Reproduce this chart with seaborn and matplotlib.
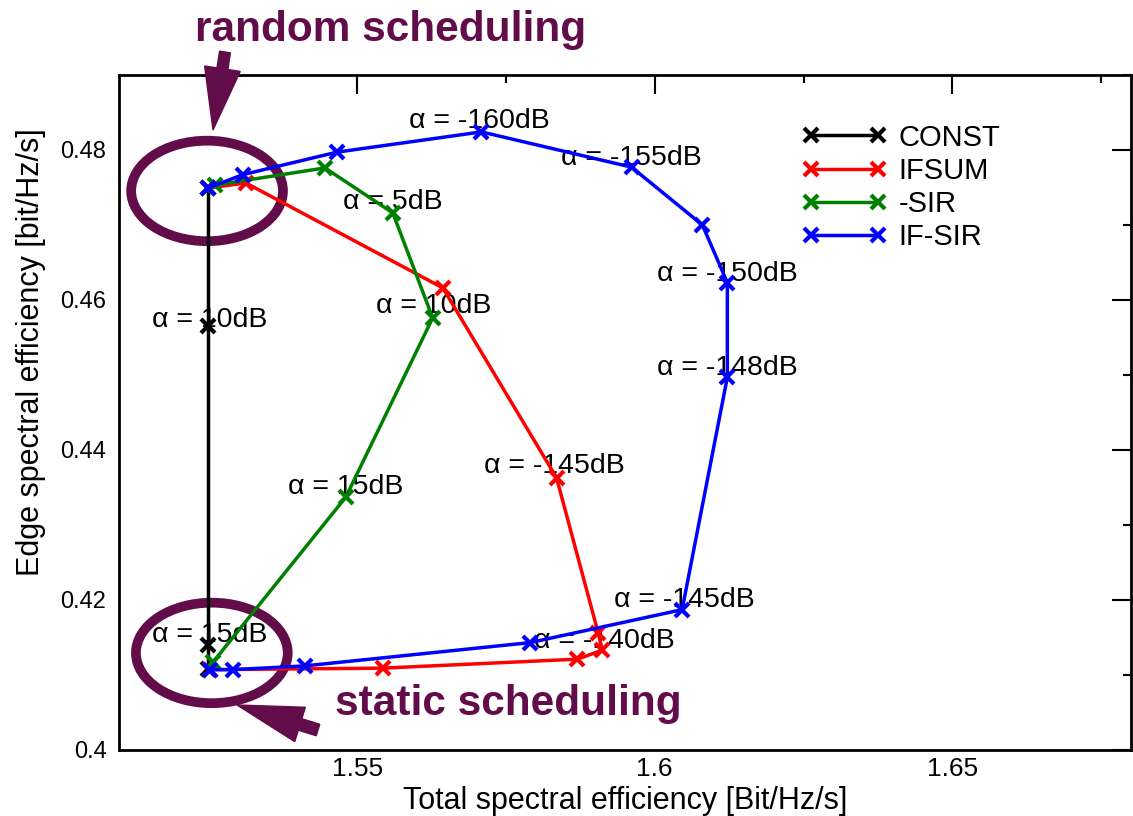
import matplotlib
matplotlib.use('Agg')
import matplotlib.pyplot as plt
from matplotlib.patches import Ellipse, FancyArrow
from matplotlib.ticker import MultipleLocator
import seaborn as sns

# data
const_x = [1.5250, 1.5250, 1.5250, 1.5250]
const_y = [0.4749, 0.4565, 0.4140, 0.4108]

ifsum_x = [1.5249, 1.5313, 1.5644, 1.5835, 1.5905, 1.5912, 1.5870, 1.5543, 1.5253]
ifsum_y = [0.4749, 0.4756, 0.4616, 0.4363, 0.4156, 0.4133, 0.4121, 0.4109, 0.4107]

sir_x = [1.5249, 1.5261, 1.5446, 1.5560, 1.5627, 1.5481, 1.5258]
sir_y = [0.4749, 0.4753, 0.4776, 0.4716, 0.4576, 0.4337, 0.4117]

ifsir_x = [1.5249, 1.5308, 1.5466, 1.5709, 1.5961, 1.6080, 1.6122, 1.6122,
           1.6046, 1.5790, 1.5412, 1.5291, 1.5253]
ifsir_y = [0.4749, 0.4767, 0.4797, 0.4824, 0.4777, 0.4700, 0.4623, 0.4497,
           0.4187, 0.4143, 0.4112, 0.4107, 0.4107]

series_names = ['CONST', 'IFSUM', '-SIR', 'IF-SIR']
series_colors = ['black', 'red', 'green', 'blue']

alpha_labels = ['α = -160dB', 'α = -155dB', 'α = 5dB', 'α = 10dB', 'α = 15dB',
                'α = -145dB', 'α = -140dB', 'α = -150dB', 'α = -148dB',
                'α = -145dB', 'α = 10dB', 'α = 15dB']
alpha_pos = [(1.5588, 0.4839), (1.5843, 0.4789), (1.5476, 0.4731), (1.5531, 0.4592),
             (1.5384, 0.4351), (1.5714, 0.4379), (1.5798, 0.4145), (1.6003, 0.4635),
             (1.6003, 0.4509), (1.5931, 0.4200), (1.5155, 0.4573), (1.5155, 0.4153)]

PURPLE = '#620c4a'


def main():
    sns.set_style('white')
    plt.rcParams['font.family'] = ['Liberation Sans', 'DejaVu Sans']
    plt.rcParams['text.color'] = 'black'
    plt.rcParams['axes.labelcolor'] = 'black'
    plt.rcParams['xtick.color'] = 'black'
    plt.rcParams['ytick.color'] = 'black'

    fig = plt.figure(figsize=(11.33, 8.16), dpi=100)
    ax = fig.add_axes([0.105, 0.081, 0.8932, 0.8272])

    xs = [const_x, ifsum_x, sir_x, ifsir_x]
    ys = [const_y, ifsum_y, sir_y, ifsir_y]
    for x, y, name, c in zip(xs, ys, series_names, series_colors):
        sns.lineplot(x=x, y=y, sort=False, estimator=None, ax=ax, color=c,
                     linewidth=2.5, marker='x', markersize=10,
                     markeredgewidth=3, markeredgecolor=c, label=name, zorder=3)

    for txt, (tx, ty) in zip(alpha_labels, alpha_pos):
        ax.text(tx, ty, txt, fontsize=20.5, ha='left', va='center', zorder=1.5)

    # circles round the two scheduling clusters
    for cx, cy in [(1.5248, 0.47453), (1.5256, 0.41293)]:
        ax.add_patch(Ellipse((cx, cy), 0.0255, 0.0134, fill=False,
                             edgecolor=PURPLE, linewidth=7, zorder=2, clip_on=False))

    # arrows (inches from lower-left of the figure)
    fig.add_artist(FancyArrow(2.25, 7.64, -0.12, -0.78, width=0.11, head_width=0.36,
                              head_length=0.62, length_includes_head=True,
                              color=PURPLE, transform=fig.dpi_scale_trans))
    fig.add_artist(FancyArrow(3.18, 0.86, -0.81, 0.25, width=0.12, head_width=0.36,
                              head_length=0.66, length_includes_head=True,
                              color=PURPLE, transform=fig.dpi_scale_trans))

    fig.text(0.172, 0.963, 'random scheduling', fontsize=30.5, fontweight='bold',
             color=PURPLE, ha='left', va='center')
    fig.text(0.296, 0.137, 'static scheduling', fontsize=30.5, fontweight='bold',
             color=PURPLE, ha='left', va='center')

    ax.set_xlim(1.51, 1.68)
    ax.set_ylim(0.4, 0.49)
    ax.xaxis.set_major_locator(MultipleLocator(0.05))
    ax.xaxis.set_minor_locator(MultipleLocator(0.025))
    ax.yaxis.set_major_locator(MultipleLocator(0.02))
    ax.yaxis.set_minor_locator(MultipleLocator(0.01))
    ax.set_xticks([1.55, 1.6, 1.65])
    ax.set_xticklabels(['1.55', '1.6', '1.65'])
    ax.set_yticks([0.4, 0.42, 0.44, 0.46, 0.48])
    ax.set_yticklabels(['0.4', '0.42', '0.44', '0.46', '0.48'])
    ax.tick_params(which='both', direction='in', top=True, right=True, width=1.5)
    ax.tick_params(which='major', length=14)
    ax.tick_params(which='minor', length=6)
    ax.tick_params(axis='x', labelsize=19, pad=5)
    ax.tick_params(axis='y', labelsize=17, pad=9)
    for s in ax.spines.values():
        s.set_linewidth(2)
        s.set_color('black')

    ax.set_xlabel('Total spectral efficiency [Bit/Hz/s]', fontsize=22)
    ax.set_ylabel('Edge spectral efficiency [bit/Hz/s]', fontsize=22)
    ax.xaxis.set_label_coords(0.5, -0.053)
    ax.yaxis.set_label_coords(-0.072, 0.59)

    ax.legend(loc='upper left', bbox_to_anchor=(0.675, 0.928), frameon=False,
              fontsize=21, numpoints=2, handlelength=2.9, handletextpad=0.4,
              labelspacing=0.18, borderaxespad=0, borderpad=0)

    fig.savefig('out.png', dpi=100)


if __name__ == '__main__':
    main()
